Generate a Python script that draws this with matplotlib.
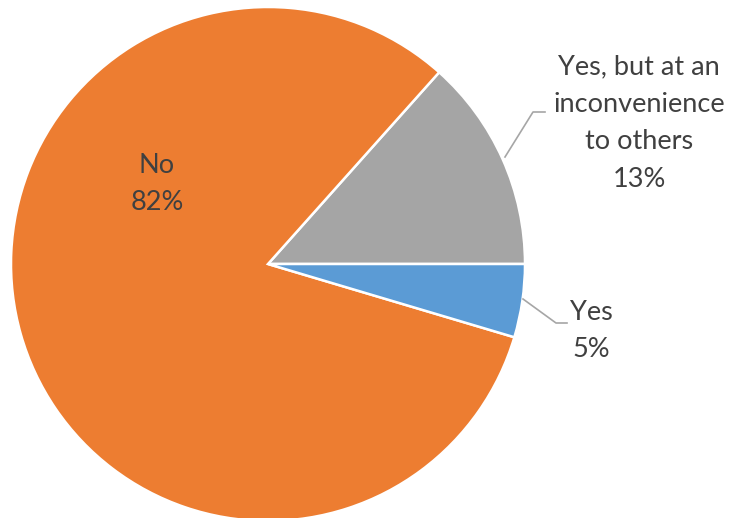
import matplotlib.pyplot as plt

# donnees
categories = ["Yes, but at an\ninconvenience\nto others", "No", "Yes"]
values = [13.4, 82.0, 4.6]
pct_labels = ["13%", "82%", "5%"]
colors = ["#A5A5A5", "#ED7D31", "#5B9BD5"]

plt.rcParams['font.family'] = ['Lato', 'DejaVu Sans']

W, H = 738, 518
fig = plt.figure(figsize=(W / 100, H / 100), dpi=100)
ax = fig.add_axes([0, 0, 1, 1])

cx, cy, r = 268, H - 264, 257
wedges, _ = ax.pie(values, colors=colors, startangle=0, counterclock=True,
                   center=(cx, cy), radius=r,
                   wedgeprops=dict(edgecolor='white', linewidth=1.8))

ax.set_xlim(0, W)
ax.set_ylim(0, H)
ax.set_aspect('equal')
ax.axis('off')

txt = dict(fontsize=19.5, color='#404040', ha='center', va='center', linespacing=1.62)

# etiquette interieure
ax.text(157, H - 184, f"{categories[1]}\n{pct_labels[1]}", **txt)

# etiquettes exterieures avec traits de rappel
ax.text(639, H - 123, f"{categories[0]}\n{pct_labels[0]}", **txt)
ax.plot([505, 533, 545], [H - 157, H - 112, H - 112], color='#A6A6A6', lw=1.2)

ax.text(591, H - 331, f"{categories[2]}\n{pct_labels[2]}", **txt)
ax.plot([523, 556, 567], [H - 299, H - 323, H - 323], color='#A6A6A6', lw=1.2)

fig.savefig("out.png", dpi=100)
